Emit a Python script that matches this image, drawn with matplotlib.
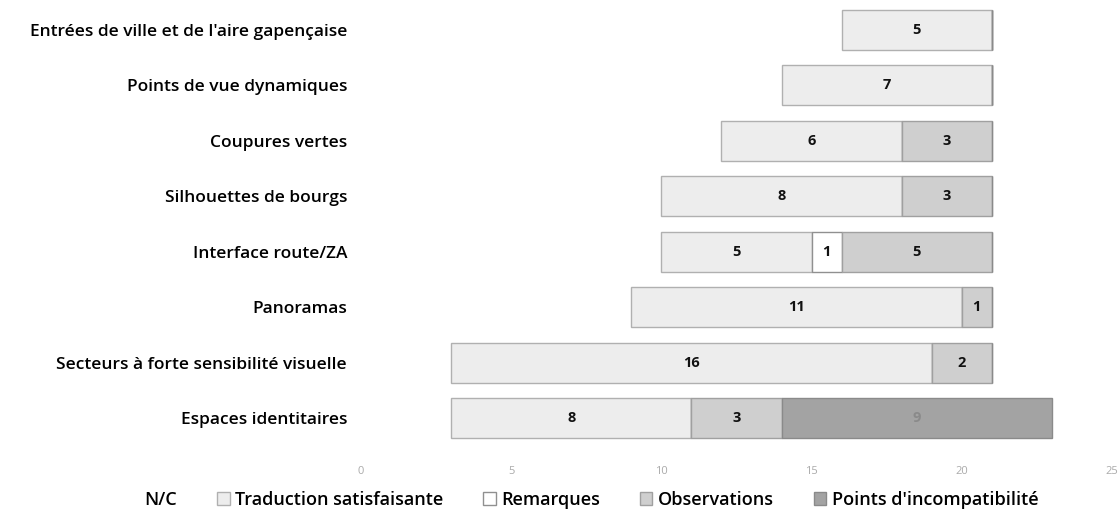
import matplotlib.pyplot as plt
import numpy as np

categories = ["Entrées de ville et de l'aire gapençaise", "Points de vue dynamiques",
              "Coupures vertes", "Silhouettes de bourgs", "Interface route/ZA",
              "Panoramas", "Secteurs à forte sensibilité visuelle", "Espaces identitaires"]
nc = [16, 14, 12, 10, 10, 9, 3, 3]
traduction = [5, 7, 6, 8, 5, 11, 16, 8]
remarques = [0, 0, 0, 0, 1, 0, 0, 0]
observations = [0, 0, 3, 3, 5, 1, 2, 3]
incompat = [0, 0, 0, 0, 0, 0, 0, 9]

series = [
    ("N/C", nc, "white", "white"),
    ("Traduction satisfaisante", traduction, "#ededed", "#b0b0b0"),
    ("Remarques", remarques, "white", "#909090"),
    ("Observations", observations, "#cfcfcf", "#a0a0a0"),
    ("Points d'incompatibilité", incompat, "#a3a3a3", "#8a8a8a"),
]

plt.rcParams['font.family'] = ['Open Sans', 'DejaVu Sans']

fig = plt.figure(figsize=(11.2, 5.17), dpi=100)
ax = fig.add_axes([0.3223, 0.137, 0.6705, 0.859])

y = np.arange(len(categories))
left = np.zeros(len(categories))
handles = []
for i, (name, vals, color, edge) in enumerate(series):
    vals = np.array(vals, dtype=float)
    bars = ax.barh(y, vals, left=left, height=0.72, color=color,
                   edgecolor=edge, linewidth=1.0, label=name)
    handles.append(bars)
    if i > 0:
        for yy, l, v in zip(y, left, vals):
            if v > 0:
                col = "#111111" if i < 4 else "#8a8a8a"
                ax.text(l + v / 2, yy, str(int(v)), ha="center", va="center",
                        fontsize=10.5, fontweight="bold", color=col)
    left += vals

ax.set_xlim(0, 25)
ax.set_ylim(len(categories) - 0.5, -0.5)
ax.set_yticks(y)
ax.set_yticklabels(categories, fontsize=12.5, fontweight="semibold")
ax.set_xticks([0, 5, 10, 15, 20, 25])
ax.tick_params(axis="x", colors="#aaaaaa", labelsize=8, length=0, pad=14)
ax.tick_params(axis="y", length=0, pad=10)
for s in ax.spines.values():
    s.set_visible(False)

fig.legend(handles=handles, labels=[s[0] for s in series], loc="center",
           bbox_to_anchor=(0.52, 0.033), ncol=5, frameon=False,
           prop={"size": 13, "weight": "semibold"}, handlelength=0.7,
           handleheight=0.7, columnspacing=2.2, handletextpad=0.3)

fig.savefig("out.png", dpi=100)
